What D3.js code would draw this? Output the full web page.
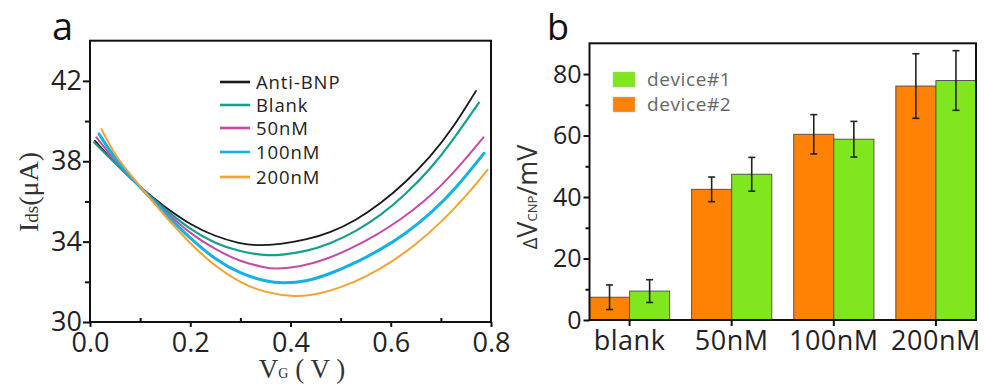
<!DOCTYPE html>
<html><head><meta charset="utf-8">
<script src="https://cdn.jsdelivr.net/npm/d3@7"></script>
<style>
body{margin:0;background:#fff;}
svg{display:block;}
</style>
</head><body>
<svg id="c" width="984" height="387" font-family="Open Sans, sans-serif"></svg>
<script>
// ---------- Panel a data ----------
const seriesNames = ["Anti-BNP","Blank","50nM","100nM","200nM"];
const antiBNP = [[0.01,39.02],[0.05,37.9],[0.1,36.7],[0.15,35.7],[0.2,34.85],[0.25,34.25],[0.3,33.9],[0.33,33.8],[0.38,33.87],[0.43,34.08],[0.48,34.45],[0.53,35.05],[0.58,35.9],[0.63,36.95],[0.68,38.25],[0.72,39.5],[0.77,41.5]];
const blank = [[0.008,38.95],[0.05,37.9],[0.1,36.7],[0.15,35.6],[0.2,34.6],[0.25,33.9],[0.3,33.5],[0.35,33.3],[0.38,33.33],[0.43,33.5],[0.48,33.9],[0.53,34.5],[0.58,35.3],[0.63,36.35],[0.68,37.65],[0.72,38.9],[0.776,40.92]];
const nM50 = [[0.013,39.19],[0.05,38.0],[0.1,36.7],[0.15,35.5],[0.2,34.4],[0.25,33.6],[0.3,33.0],[0.35,32.7],[0.37,32.63],[0.42,32.75],[0.47,33.1],[0.52,33.65],[0.57,34.3],[0.62,35.1],[0.67,36.05],[0.72,37.25],[0.785,39.19]];
const nM100 = [[0.018,39.36],[0.05,38.1],[0.1,36.7],[0.15,35.4],[0.2,34.15],[0.25,33.1],[0.3,32.4],[0.35,32.02],[0.385,31.92],[0.43,32.0],[0.48,32.4],[0.53,32.95],[0.58,33.6],[0.63,34.4],[0.68,35.4],[0.73,36.65],[0.786,38.4]];
const nM200 = [[0.023,39.6],[0.05,38.25],[0.1,36.75],[0.15,35.25],[0.2,33.9],[0.25,32.75],[0.3,31.95],[0.35,31.45],[0.41,31.24],[0.45,31.35],[0.5,31.7],[0.55,32.25],[0.6,32.95],[0.65,33.85],[0.7,34.95],[0.75,36.25],[0.793,37.57]];
const vgTicks = [0,0.2,0.4,0.6,0.8];
const vgMinor = [0.1,0.3,0.5,0.7];
const idsTicks = [30,34,38,42];
const idsMinor = [32,36,40];

// ---------- Panel b data ----------
const categories = ["blank","50nM","100nM","200nM"];
const deviceNames = ["device#1","device#2"];
const device1 = [9.4,47.4,58.8,77.9];
const device1Err = [3.7,5.5,5.8,9.7];
const device2 = [7.4,42.5,60.4,76.1];
const device2Err = [4.0,4.0,6.4,10.5];
const dvTicks = [0,20,40,60,80];
const dvMinor = [10,30,50,70];

const svg = d3.select("#c");
const SERIF = "'Liberation Serif', 'DejaVu Serif', serif";
const SANS = "'Open Sans', sans-serif";

// ================= Panel a =================
const seriesData = [antiBNP, blank, nM50, nM100, nM200];
const seriesColor = ["#1a1a1a","#13a08c","#c64aa8","#12b2e4","#f5a232"];
const seriesWidth = [1.8,2.2,2.0,3.0,2.0];

const xa = d3.scaleLinear().domain([0,0.8]).range([90,491]);
const ya = d3.scaleLinear().domain([30,44]).range([322,40.7]);

const ga = svg.append("g");
const line = d3.line().x(d=>xa(d[0])).y(d=>ya(d[1])).curve(d3.curveBasis);
seriesData.forEach((s,i)=>{
  ga.append("path").attr("d",line(s)).attr("fill","none")
    .attr("stroke",seriesColor[i]).attr("stroke-width",seriesWidth[i])
    .attr("stroke-linecap","round");
});

// frame
ga.append("rect").attr("x",xa(0)).attr("y",ya(44)).attr("width",xa(0.8)-xa(0)).attr("height",ya(30)-ya(44))
  .attr("fill","none").attr("stroke","#111").attr("stroke-width",2);

// axes
const axYa = ga.append("g").attr("transform",`translate(${xa(0)},0)`)
  .call(d3.axisLeft(ya).tickValues(idsTicks).tickSize(7).tickPadding(1).tickFormat(d3.format("d")));
const axYaMin = ga.append("g").attr("transform",`translate(${xa(0)},0)`)
  .call(d3.axisLeft(ya).tickValues(idsMinor).tickSize(5).tickFormat(""));
const axXa = ga.append("g").attr("transform",`translate(0,${ya(30)})`)
  .call(d3.axisBottom(xa).tickValues(vgTicks).tickSize(5).tickPadding(6).tickFormat(d3.format(".1f")));
const axXaMin = ga.append("g").attr("transform",`translate(0,${ya(30)})`)
  .call(d3.axisBottom(xa).tickValues(vgMinor).tickSize(-4).tickFormat(""));
[axYa,axYaMin,axXa,axXaMin].forEach(a=>{
  a.select(".domain").remove();
  a.selectAll("line").attr("stroke","#111").attr("stroke-width",2);
  a.selectAll("text").attr("font-size",27).attr("fill","#222").style("font-family",SANS);
});

// legend a
const lgA = ga.append("g");
const legY = [82,105,128,152,177];
seriesNames.forEach((n,i)=>{
  lgA.append("line").attr("x1",220).attr("x2",250).attr("y1",legY[i]).attr("y2",legY[i])
    .attr("stroke",seriesColor[i]).attr("stroke-width",2.6);
  lgA.append("text").attr("x",256).attr("y",legY[i]).attr("dy","0.36em")
    .attr("font-size",18.5).attr("letter-spacing",0.9).attr("fill","#222").style("font-family",SANS).text(n);
});

// axis titles a
const xt = ga.append("text").attr("x",302).attr("y",378).attr("text-anchor","middle")
  .style("font-family",SERIF).attr("fill","#333");
xt.append("tspan").attr("font-size",27).text("V");
xt.append("tspan").attr("font-size",14).text("G");
xt.append("tspan").attr("font-size",27).text(" ( V )");

const yt = ga.append("text").attr("transform","translate(38,192) rotate(-90)").attr("text-anchor","middle")
  .style("font-family",SERIF).attr("fill","#333");
yt.append("tspan").attr("font-size",28).text("I");
yt.append("tspan").attr("font-size",19).text("ds");
yt.append("tspan").attr("font-size",28).text("(μA)");

svg.append("text").attr("x",52).attr("y",40).attr("font-size",38).attr("fill","#111").style("font-family",SANS).text("a");

// ================= Panel b =================
const xb = d3.scaleBand().domain(categories).range([589.5,976]).paddingInner(0.215).paddingOuter(0);
const xs = d3.scaleBand().domain(["device#2","device#1"]).range([0,xb.bandwidth()]);
const yb = d3.scaleLinear().domain([0,90]).range([320,43.3]);
const devColor = {"device#1":"#80e61e","device#2":"#ff8205"};
const devVals = {"device#1":device1,"device#2":device2};
const devErr = {"device#1":device1Err,"device#2":device2Err};

const gb = svg.append("g");
categories.forEach((c,ci)=>{
  ["device#2","device#1"].forEach(d=>{
    const v = devVals[d][ci], e = devErr[d][ci];
    const x0 = xb(c)+xs(d), w = xs.bandwidth();
    gb.append("rect").attr("x",x0).attr("y",yb(v)).attr("width",w).attr("height",yb(0)-yb(v))
      .attr("fill",devColor[d]).attr("stroke","#555").attr("stroke-width",1);
    const cx = x0+w/2;
    gb.append("line").attr("x1",cx).attr("x2",cx).attr("y1",yb(v+e)).attr("y2",yb(v-e))
      .attr("stroke","#222").attr("stroke-width",1.6);
    [v+e,v-e].forEach(t=>{
      gb.append("line").attr("x1",cx-3.5).attr("x2",cx+3.5).attr("y1",yb(t)).attr("y2",yb(t))
        .attr("stroke","#222").attr("stroke-width",1.6);
    });
  });
});

gb.append("rect").attr("x",589.5).attr("y",yb(90)).attr("width",976-589.5).attr("height",yb(0)-yb(90))
  .attr("fill","none").attr("stroke","#111").attr("stroke-width",2);

const axYb = gb.append("g").attr("transform","translate(589.5,0)")
  .call(d3.axisLeft(yb).tickValues(dvTicks).tickSize(6).tickPadding(2).tickFormat(d3.format("d")));
const axYbMin = gb.append("g").attr("transform","translate(589.5,0)")
  .call(d3.axisLeft(yb).tickValues(dvMinor).tickSize(4).tickFormat(""));
const axXb = gb.append("g").attr("transform",`translate(0,${yb(0)})`)
  .call(d3.axisBottom(xb).tickSize(6).tickPadding(5));
[axYb,axYbMin,axXb].forEach(a=>{
  a.select(".domain").remove();
  a.selectAll("line").attr("stroke","#111").attr("stroke-width",2);
  a.selectAll("text").attr("fill","#222").style("font-family",SANS);
});
axYb.selectAll("text").attr("font-size",25);
axXb.selectAll("text").attr("font-size",27).attr("letter-spacing",0.5);

// legend b
const lgB = gb.append("g");
deviceNames.forEach((d,i)=>{
  const y0 = 72 + i*25;
  lgB.append("rect").attr("x",613).attr("y",y0).attr("width",22).attr("height",15)
    .attr("fill",devColor[d]).attr("stroke","#bbb").attr("stroke-width",0.5);
  lgB.append("text").attr("x",647).attr("y",y0+7.5).attr("dy","0.36em")
    .attr("font-size",19).attr("letter-spacing",0.6).attr("fill","#666").style("font-family",SANS).text(d);
});

// y title b
const ytb = gb.append("text").attr("transform","translate(537,197) rotate(-90)").attr("text-anchor","middle")
  .attr("fill","#333").style("font-family",SANS);
ytb.append("tspan").attr("font-size",20).text("Δ");
ytb.append("tspan").attr("font-size",27).text("V");
ytb.append("tspan").attr("font-size",13).text("CNP");
ytb.append("tspan").attr("font-size",27).text("/mV");

svg.append("text").attr("x",547).attr("y",40).attr("font-size",36).attr("fill","#111").style("font-family",SANS).text("b");
</script>
</body></html>
